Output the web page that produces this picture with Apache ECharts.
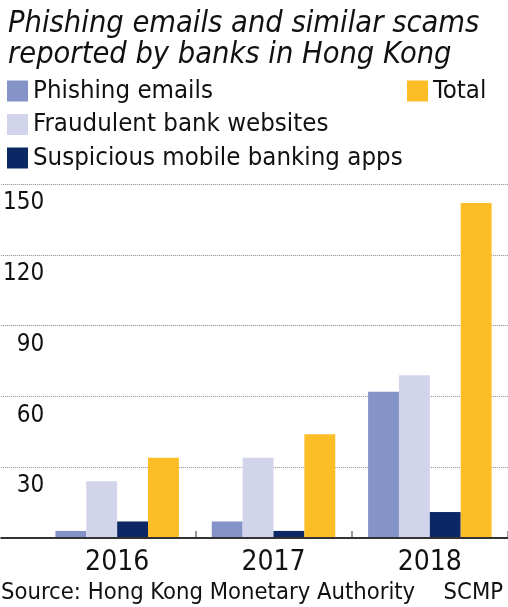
<!DOCTYPE html>
<html><head><meta charset="utf-8">
<script src="https://cdn.jsdelivr.net/npm/echarts@6/dist/echarts.min.js"></script>
<style>html,body{margin:0;padding:0;background:#fff}#c{width:508px;height:607px}</style>
</head><body><div id="c"></div>
<script>
var categories = ['2016', '2017', '2018'];
var phishing = [3, 7, 62];
var fraudulent = [24, 34, 69];
var suspicious = [7, 3, 11];
var total = [34, 44, 142];
var yTicks = [0, 30, 60, 90, 120, 150];

var FONT = "'DejaVu Sans Condensed', 'Liberation Sans Narrow', sans-serif";
var chart = echarts.init(document.getElementById('c'));
chart.setOption({
  animation: false,
  textStyle: { fontFamily: FONT },
  title: [
    { text: 'Phishing emails and similar scams\nreported by banks in Hong Kong', left: 3, top: 4,
      textStyle: { fontFamily: FONT, fontStyle: 'italic', fontWeight: 'normal', fontSize: 30.5, lineHeight: 31, color: '#111' } },
    { text: 'Source: Hong Kong Monetary Authority', left: -4, top: 576,
      textStyle: { fontFamily: FONT, fontWeight: 'normal', fontSize: 23.6, color: '#111' } },
    { text: 'SCMP', right: 0, top: 576,
      textStyle: { fontFamily: FONT, fontWeight: 'normal', fontSize: 23.6, color: '#111' } }
  ],
  legend: [
    { data: ['Phishing emails', 'Fraudulent bank websites', 'Suspicious mobile banking apps'],
      orient: 'vertical', left: 2, top: 73, itemWidth: 21, itemHeight: 21, itemGap: 7.5, icon: 'rect',
      selectedMode: false, textStyle: { fontFamily: FONT, fontSize: 25.6, color: '#111' } },
    { data: ['Total'], orient: 'vertical', left: 402, top: 73, itemWidth: 21, itemHeight: 21, icon: 'rect',
      selectedMode: false, textStyle: { fontFamily: FONT, fontSize: 25.6, color: '#111' } }
  ],
  grid: [
    { left: 39, right: -2, top: 184, bottom: 69 },
    { left: 0, right: 0, top: 184, bottom: 69 }
  ],
  xAxis: [
    { type: 'category', gridIndex: 0, data: categories,
      axisLine: { show: false },
      axisTick: { show: true, inside: true, length: 7, lineStyle: { color: '#999', width: 2 },
        interval: function (i) { return i === 1 || i === 2; } },
      axisLabel: { fontFamily: FONT, fontSize: 28, color: '#111', margin: 11 } },
    { type: 'value', gridIndex: 1, min: 0, max: 1, z: 5,
      axisLine: { show: true, onZero: false, lineStyle: { color: '#333', width: 2 } },
      axisTick: { show: false }, axisLabel: { show: false }, splitLine: { show: false } }
  ],
  yAxis: [
    { type: 'value', gridIndex: 0, min: 0, max: 150, show: false, splitLine: { show: false } },
    { type: 'value', gridIndex: 1, min: yTicks[0], max: yTicks[yTicks.length - 1], interval: 30,
      axisLine: { show: false }, axisTick: { show: false },
      splitLine: { show: true, lineStyle: { type: 'dotted', color: '#888', width: 1 } },
      axisLabel: { inside: true, align: 'right', margin: 43, verticalAlign: 'top', padding: [7, 0, 0, 0],
        showMinLabel: false, fontFamily: FONT, fontSize: 24, color: '#111' } }
  ],
  series: [
    { name: 'Phishing emails', type: 'bar', xAxisIndex: 0, yAxisIndex: 0, data: phishing,
      itemStyle: { color: '#8594c8' }, barGap: '0%', barCategoryGap: '21%' },
    { name: 'Fraudulent bank websites', type: 'bar', xAxisIndex: 0, yAxisIndex: 0, data: fraudulent,
      itemStyle: { color: '#d1d4ea' } },
    { name: 'Suspicious mobile banking apps', type: 'bar', xAxisIndex: 0, yAxisIndex: 0, data: suspicious,
      itemStyle: { color: '#0c2864' } },
    { name: 'Total', type: 'bar', xAxisIndex: 0, yAxisIndex: 0, data: total,
      itemStyle: { color: '#fdbd27' } }
  ]
});
</script></body></html>
